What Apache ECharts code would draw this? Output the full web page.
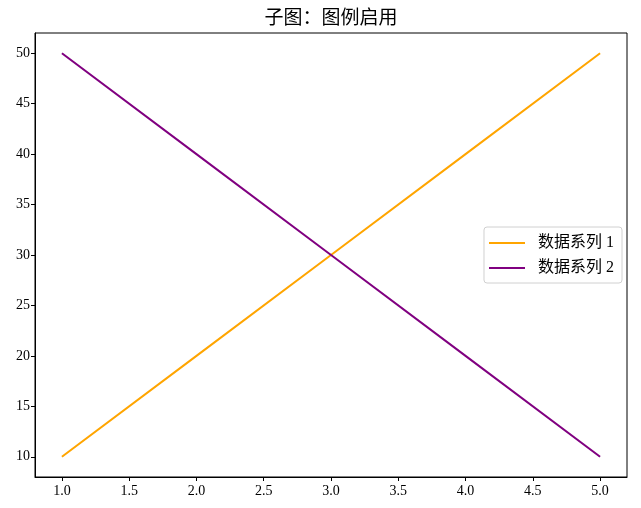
<!DOCTYPE html>
<html><head><meta charset="utf-8">
<script src="https://cdn.jsdelivr.net/npm/echarts@6/dist/echarts.min.js"></script>
<style>html,body{margin:0;padding:0;background:#fff}#c{width:641px;height:508px}</style>
</head><body><div id="c"></div>
<script>
const xValues = [1, 2, 3, 4, 5];
const series1 = [10, 20, 30, 40, 50];
const series2 = [50, 40, 30, 20, 10];
const seriesNames = ['数据系列 1', '数据系列 2'];
const xTicks = [1.0, 1.5, 2.0, 2.5, 3.0, 3.5, 4.0, 4.5, 5.0];
const yTicks = [10, 15, 20, 25, 30, 35, 40, 45, 50];
const titleText = '子图：图例启用';

const chart = echarts.init(document.getElementById('c'));
const serif = '"Liberation Serif", "Times New Roman", "Noto Sans CJK SC", serif';
const cjk = '"Liberation Serif", "Noto Sans CJK SC", sans-serif';
chart.setOption({
  animation: false,
  backgroundColor: '#fff',
  title: {
    text: titleText, left: 326, top: 2, textAlign: 'center',
    textStyle: { fontFamily: '"Noto Sans CJK SC", sans-serif', fontSize: 19, fontWeight: 'normal', color: '#000' }
  },
  legend: {
    orient: 'vertical', right: 19, top: 227,
    backgroundColor: '#fff', borderColor: '#d0d0d0', borderWidth: 1, borderRadius: 3,
    padding: [7, 8, 6, 5], itemGap: 7,
    itemWidth: 36, itemHeight: 2, icon: 'rect',
    textStyle: { fontFamily: cjk, fontSize: 16, lineHeight: 18, color: '#000', padding: [0, 0, 0, 8] },
    data: seriesNames
  },
  grid: { left: 35, right: 14, top: 33, bottom: 31, show: true, borderColor: '#000', borderWidth: 1 },
  xAxis: {
    type: 'value', min: 0.8, max: 5.2,
    axisLine: { show: true, lineStyle: { color: '#000' } },
    splitLine: { show: false },
    axisTick: { show: true, inside: false, length: 4, customValues: xTicks, lineStyle: { color: '#000' } },
    axisLabel: { customValues: xTicks, formatter: v => v.toFixed(1), fontFamily: serif, fontSize: 14, color: '#000', margin: 7 }
  },
  yAxis: {
    type: 'value', min: 8, max: 52,
    axisLine: { show: true, lineStyle: { color: '#000' } },
    splitLine: { show: false },
    axisTick: { show: true, inside: false, length: 4, customValues: yTicks, lineStyle: { color: '#000' } },
    axisLabel: { customValues: yTicks, fontFamily: serif, fontSize: 14, color: '#000', margin: 5 }
  },
  series: [
    { name: seriesNames[0], type: 'line', data: xValues.map((x, i) => [x, series1[i]]), showSymbol: false, symbol: 'none',
      lineStyle: { color: '#FFA500', width: 2 }, itemStyle: { color: '#FFA500' } },
    { name: seriesNames[1], type: 'line', data: xValues.map((x, i) => [x, series2[i]]), showSymbol: false, symbol: 'none',
      lineStyle: { color: '#800080', width: 2 }, itemStyle: { color: '#800080' } }
  ]
});
</script></body></html>
